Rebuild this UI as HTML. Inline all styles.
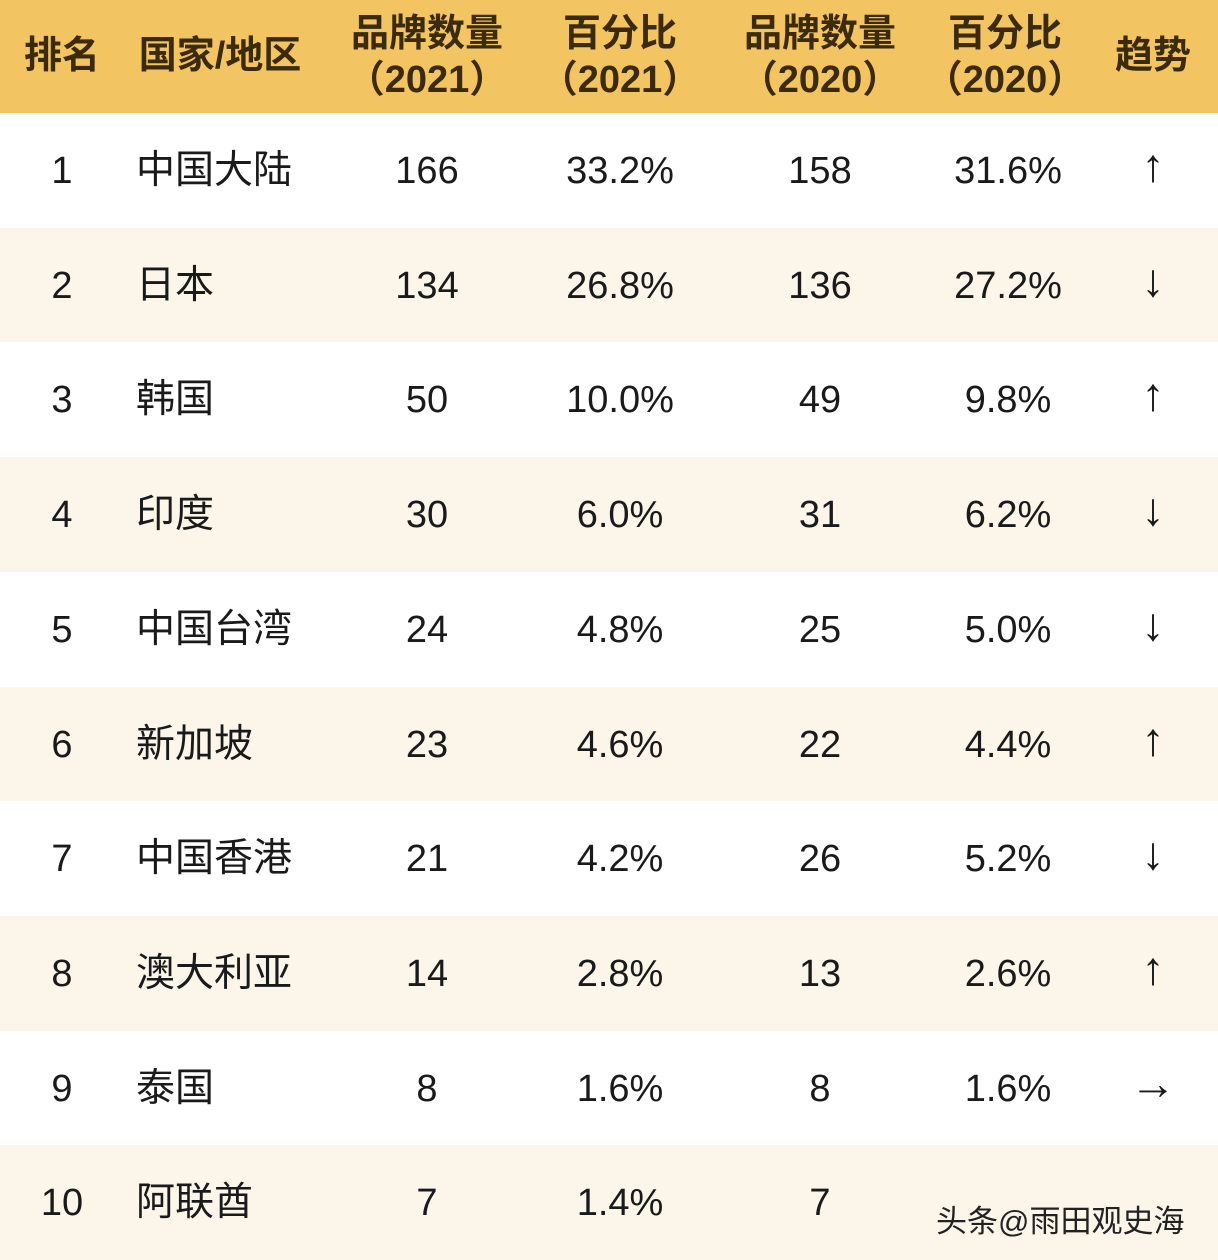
<!DOCTYPE html>
<html><head><meta charset="utf-8"><style>
body{margin:0;width:1218px;height:1260px;overflow:hidden;background:#fff;font-family:"Liberation Sans","Noto Sans CJK SC",sans-serif;}
.hdr{position:absolute;left:0;top:0;width:1218px;height:113px;background:#F2C462;}
.h{position:absolute;color:#3b2b0c;font-weight:bold;font-size:38px;line-height:46px;text-align:center;transform:translateX(-50%);white-space:nowrap;}
.row{position:absolute;left:0;width:1218px;height:115px;}
.c{position:absolute;font-size:38px;color:#1a1a1a;line-height:40px;white-space:nowrap;}
.cj{font-size:39px;}
.ar{font-size:46px;top:32px !important;}
.ctr{transform:translateX(-50%);text-align:center;}
.wm{position:absolute;left:936px;top:1196px;font-size:31px;color:#222;}
</style></head><body>
<div class="hdr">
<div class="h" style="left:62px;top:33px">排名</div>
<div class="h" style="left:220px;top:33px">国家/地区</div>
<div class="h" style="left:427px;top:11px">品牌数量<br>（2021）</div>
<div class="h" style="left:620px;top:11px">百分比<br>（2021）</div>
<div class="h" style="left:820px;top:11px">品牌数量<br>（2020）</div>
<div class="h" style="left:1005px;top:11px">百分比<br>（2020）</div>
<div class="h" style="left:1153px;top:33px">趋势</div>
</div>
<div id="rows"></div>
<div class="wm">头条@雨田观史海</div>
<script>
const ranks=["1","2","3","4","5","6","7","8","9","10"];
const countries=["中国大陆","日本","韩国","印度","中国台湾","新加坡","中国香港","澳大利亚","泰国","阿联酋"];
const brands2021=[166,134,50,30,24,23,21,14,8,7];
const pct2021=["33.2%","26.8%","10.0%","6.0%","4.8%","4.6%","4.2%","2.8%","1.6%","1.4%"];
const brands2020=[158,136,49,31,25,22,26,13,8,7];
const pct2020=["31.6%","27.2%","9.8%","6.2%","5.0%","4.4%","5.2%","2.6%","1.6%","1.4%"];
const trends=["↑","↓","↑","↓","↓","↑","↓","↑","→",""];
const host=document.getElementById('rows');
function cell(row,txt,x,center,extra){
  const d=document.createElement('div');
  d.className='c'+(center?' ctr':'')+(extra?' '+extra:'');
  d.style.left=x+'px';d.style.top='38px';
  d.textContent=txt;
  row.appendChild(d);return d;
}
for(let i=0;i<ranks.length;i++){
  const r=document.createElement('div');
  r.className='row';
  
  
  r.style.top=(113+i*114.7)+'px';
  r.style.background=i%2?'#FBF5EA':'#fff';
  let c;
  c=cell(r,ranks[i],62,true);
  
  
  c=cell(r,countries[i],136,false,'cj');
  
  
  c=cell(r,String(brands2021[i]),427,true);
  
  
  c=cell(r,pct2021[i],620,true);
  
  
  c=cell(r,String(brands2020[i]),820,true);
  
  
  if(i<9){
    c=cell(r,pct2020[i],1008,true);
    
    
  }
  c=cell(r,trends[i],1153,true,'ar');
  
  
  host.appendChild(r);
}
</script>
</body></html>
